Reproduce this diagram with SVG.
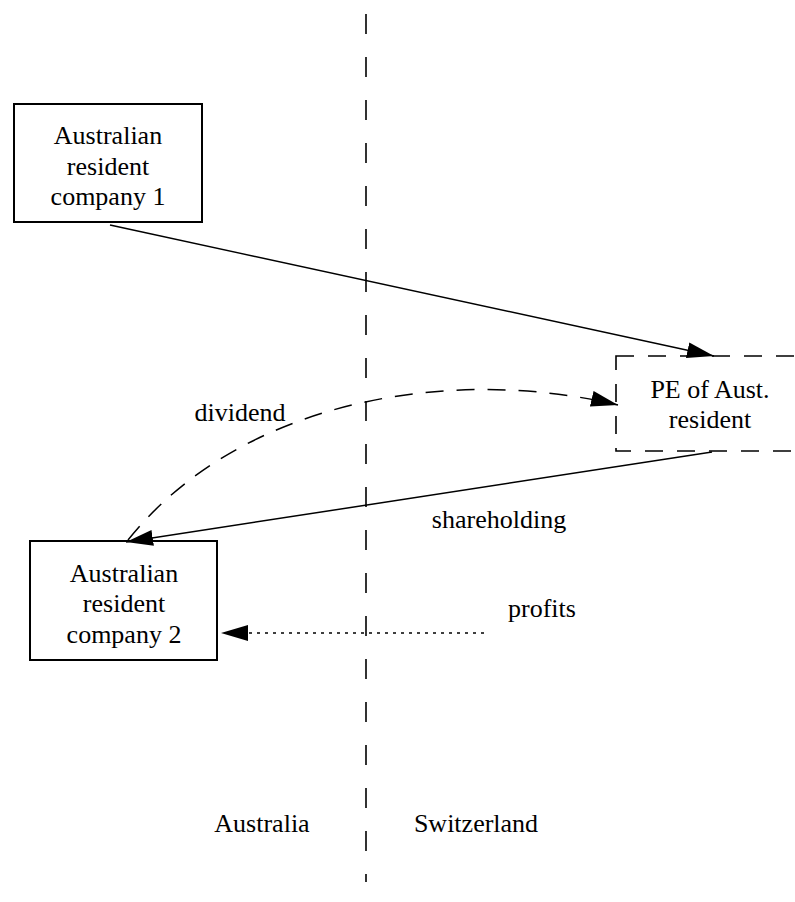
<svg xmlns="http://www.w3.org/2000/svg" width="795" height="902" viewBox="0 0 795 902">
<style>
text{font-family:"Liberation Serif","Times New Roman",serif;font-size:26px;fill:#000;text-anchor:middle}
.box{fill:#fff;stroke:#000;stroke-width:2}
.pe{fill:#fff;stroke:#000;stroke-width:1.6;stroke-dasharray:18 14}
.ln{fill:none;stroke:#000;stroke-width:1.5}
</style>
<defs>
<marker id="ah" markerUnits="userSpaceOnUse" markerWidth="30" markerHeight="18" refX="27" refY="8" orient="auto" viewBox="0 0 30 18">
<path d="M0,0 L27,8 L0,16 z" fill="#000"/>
</marker>
</defs>
<g id="border">
<line x1="366" y1="14" x2="366" y2="882" stroke="#000" stroke-width="1.6" stroke-dasharray="20 23"/>
</g>
<g id="pe">
<rect class="pe" x="616" y="356" width="200" height="95"/>
<text x="710" y="398">PE of Aust.</text>
<text x="710" y="428">resident</text>
</g>
<g id="c1">
<rect class="box" x="14" y="104" width="188" height="118"/>
<text x="108" y="144">Australian</text>
<text x="108" y="175">resident</text>
<text x="108" y="205">company 1</text>
</g>
<g id="c2">
<rect class="box" x="30" y="541" width="187" height="119"/>
<text x="124" y="582">Australian</text>
<text x="124" y="612">resident</text>
<text x="124" y="643">company 2</text>
</g>
<g id="connectors">
<line class="ln" x1="110" y1="225" x2="714" y2="356" marker-end="url(#ah)"/>
<line class="ln" x1="712" y1="452" x2="126" y2="542" marker-end="url(#ah)"/>
<path class="ln" d="M128,540 C240,400 450,365 618,405" stroke-dasharray="18 13" marker-end="url(#ah)"/>
<line class="ln" x1="484" y1="633" x2="221" y2="633" stroke-dasharray="3 5" marker-end="url(#ah)"/>
</g>
<g id="labels">
<text x="240" y="421">dividend</text>
<text x="499" y="528">shareholding</text>
<text x="542" y="617">profits</text>
<text x="262" y="832">Australia</text>
<text x="476" y="832">Switzerland</text>
</g>
</svg>
